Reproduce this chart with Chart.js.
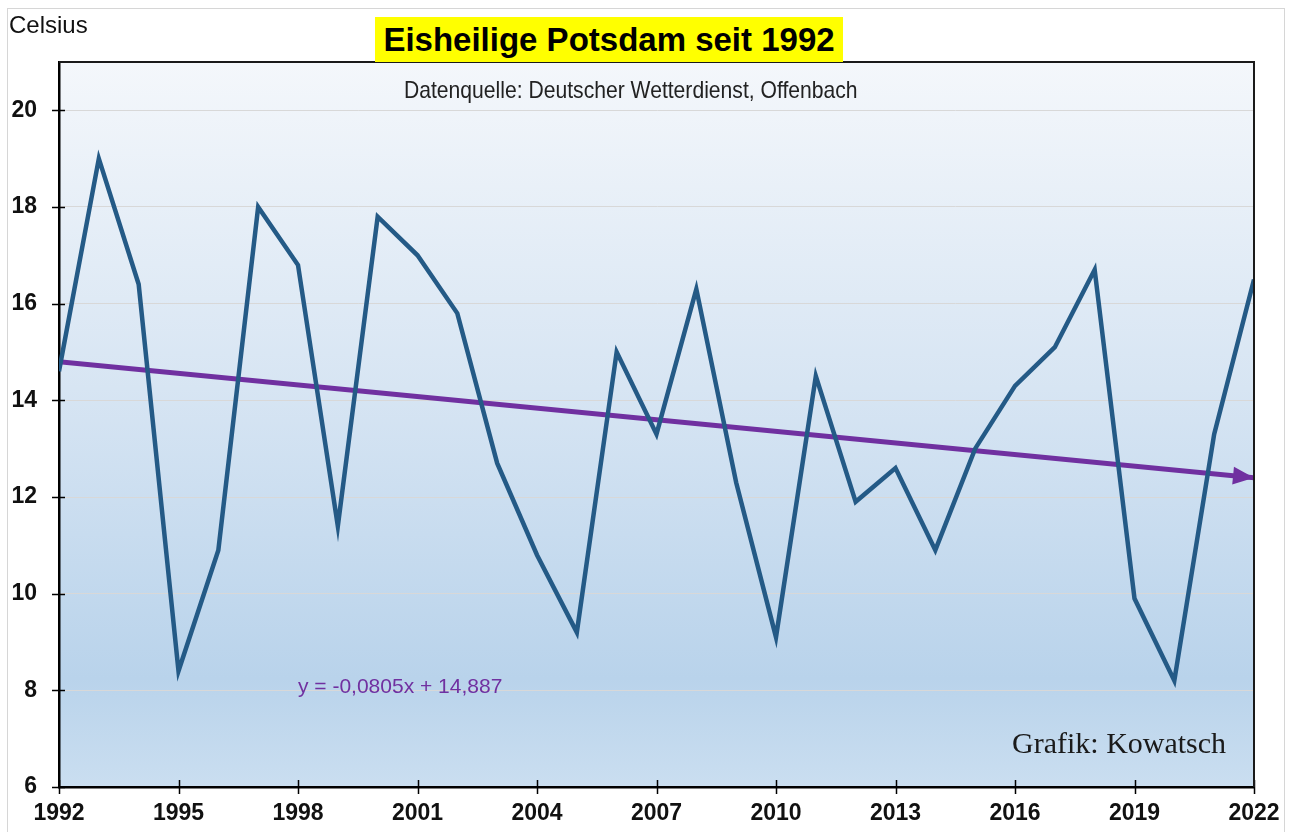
<!DOCTYPE html>
<html>
<head>
<meta charset="utf-8">
<script src="https://cdn.jsdelivr.net/npm/chart.js@4/dist/chart.umd.min.js"></script>
<style>
  body { margin: 0; background: #fff; font-family: "Liberation Sans", Arial, sans-serif; }
  #wrap { position: relative; width: 1293px; height: 832px; overflow: hidden; }
  #frame { position: absolute; left: 7px; top: 8px; width: 1276px; height: 900px; border: 1px solid #d6d6d6; }
  canvas { position: absolute; left: 0; top: 0; }
  .txt { position: absolute; white-space: nowrap; }
  #title { left: 375px; top: 17px; width: 468px; height: 45px; line-height: 45px; background: #ffff00;
           text-align: center; font-weight: bold; font-size: 33px; color: #000; }
  #unit { left: 9px; top: 11px; font-size: 24px; color: #111; }
  /* the original uses a condensed face; squeeze the regular one */
  #source { left: 404px; top: 76px; font-size: 24px; color: #222;
            transform: scaleX(0.88); transform-origin: 0 50%; }
  #eq { left: 298px; top: 674px; font-size: 21px; color: #7030a0; }
  #credit { left: 1012px; top: 726px; font-family: "Liberation Serif", "Times New Roman", serif; font-size: 30px; color: #1a1a1a; }
</style>
</head>
<body>
<div id="wrap">
  <div id="frame"></div>
  <canvas id="c" width="1293" height="832"></canvas>
  <div class="txt" id="unit">Celsius</div>
  <div class="txt" id="title">Eisheilige Potsdam seit 1992</div>
  <div class="txt" id="source">Datenquelle: Deutscher Wetterdienst, Offenbach</div>
  <div class="txt" id="eq">y = -0,0805x + 14,887</div>
  <div class="txt" id="credit">Grafik: Kowatsch</div>
</div>
<script>
// Eisheilige (11.-15. Mai) Mitteltemperatur Potsdam
const years = [1992, 1993, 1994, 1995, 1996, 1997, 1998, 1999, 2000, 2001,
               2002, 2003, 2004, 2005, 2006, 2007, 2008, 2009, 2010, 2011,
               2012, 2013, 2014, 2015, 2016, 2017, 2018, 2019, 2020, 2021, 2022];
const temps = [14.6, 19.0, 16.4, 8.4, 10.9, 18.0, 16.8, 11.4, 17.8, 17.0,
               15.8, 12.7, 10.8, 9.2, 15.0, 13.3, 16.3, 12.3, 9.1, 14.5,
               11.9, 12.6, 10.9, 13.0, 14.3, 15.1, 16.7, 9.9, 8.2, 13.3, 16.5];

// Trendlinie: Endpunkte
const trendYears = [1992, 2022];
const trendValues = [14.8, 12.4];

const yTicks = [6, 8, 10, 12, 14, 16, 18, 20];

const LINE_BLUE = '#245a86';
const TREND_PURPLE = '#7030a0';

const points = (xs, ys) => xs.map((x, i) => ({ x, y: ys[i] }));

// gradient fill behind the plot area
const plotBackground = {
  id: 'plotBackground',
  beforeDraw(chart) {
    const { ctx, chartArea: a } = chart;
    const g = ctx.createLinearGradient(0, a.top, 0, a.bottom);
    g.addColorStop(0, '#f4f7fb');
    g.addColorStop(0.45, '#d7e5f3');
    g.addColorStop(0.85, '#b9d3eb');
    g.addColorStop(1, '#cadef0');
    ctx.save();
    ctx.fillStyle = g;
    ctx.fillRect(a.left, a.top, a.right - a.left, a.bottom - a.top);
    ctx.restore();
  },
};

// tick marks that cross the axis lines, plus the top/right frame
const axisDecor = {
  id: 'axisDecor',
  afterDraw(chart) {
    const { ctx, chartArea: a, scales } = chart;
    ctx.save();
    ctx.strokeStyle = '#000';
    ctx.lineWidth = 1.5;
    ctx.beginPath();
    scales.y.ticks.forEach(t => {
      const py = Math.round(scales.y.getPixelForValue(t.value)) + 0.5;
      ctx.moveTo(a.left - 7, py);
      ctx.lineTo(a.left + 6, py);
    });
    scales.x.ticks.forEach(t => {
      const px = Math.round(scales.x.getPixelForValue(t.value)) + 0.5;
      ctx.moveTo(px, a.bottom - 7);
      ctx.lineTo(px, a.bottom + 7);
    });
    ctx.stroke();

    ctx.lineWidth = 2;
    ctx.strokeStyle = '#1a1a1a';
    ctx.beginPath();
    ctx.moveTo(a.left, a.top);
    ctx.lineTo(a.right, a.top);
    ctx.lineTo(a.right, a.bottom);
    ctx.stroke();
    ctx.restore();
  },
};

// arrow head on the end of the trend line
const trendArrow = {
  id: 'trendArrow',
  afterDatasetsDraw(chart) {
    const meta = chart.getDatasetMeta(1);
    const pts = meta.data;
    if (pts.length < 2) return;
    const p0 = pts[pts.length - 2], p1 = pts[pts.length - 1];
    const ang = Math.atan2(p1.y - p0.y, p1.x - p0.x);
    const len = 21, half = 9;
    const { ctx } = chart;
    ctx.save();
    ctx.translate(p1.x, p1.y);
    ctx.rotate(ang);
    ctx.fillStyle = TREND_PURPLE;
    ctx.beginPath();
    ctx.moveTo(0, 0);
    ctx.lineTo(-len, -half);
    ctx.lineTo(-len, half);
    ctx.closePath();
    ctx.fill();
    ctx.restore();
  },
};

const tickFont = { family: '"Liberation Sans", Arial, sans-serif', size: 23, weight: 'bold' };

new Chart(document.getElementById('c'), {
  type: 'line',
  data: {
    datasets: [
      {
        data: points(years, temps),
        borderColor: LINE_BLUE,
        borderWidth: 4.5,
        borderJoinStyle: 'miter',
        pointRadius: 0,
        tension: 0,
      },
      {
        data: points(trendYears, trendValues),
        borderColor: TREND_PURPLE,
        borderWidth: 5,
        pointRadius: 0,
        tension: 0,
      },
    ],
  },
  options: {
    responsive: false,
    animation: false,
    devicePixelRatio: 1,
    layout: { padding: { left: 0, right: 39, top: 62, bottom: 0 } },
    scales: {
      x: {
        type: 'linear',
        min: 1992,
        max: 2022,
        border: { color: '#000', width: 2.5 },
        grid: { display: false, drawTicks: false },
        ticks: {
          stepSize: 3,
          padding: 13,
          color: '#111',
          font: tickFont,
          maxRotation: 0,
          callback: v => String(v),
        },
        afterFit(scale) { scale.height = 45; },
      },
      y: {
        min: 6,
        max: 21,
        border: { color: '#000', width: 2.5 },
        grid: { color: '#d8d8d8', lineWidth: 1, drawTicks: false },
        ticks: {
          stepSize: 2,
          includeBounds: false,
          padding: 22,
          color: '#111',
          font: tickFont,
        },
        afterBuildTicks(scale) { scale.ticks = yTicks.map(value => ({ value })); },
        afterFit(scale) { scale.width = 59; },
      },
    },
    plugins: {
      legend: { display: false },
      tooltip: { enabled: false },
    },
  },
  plugins: [plotBackground, axisDecor, trendArrow],
});
</script>
</body>
</html>
